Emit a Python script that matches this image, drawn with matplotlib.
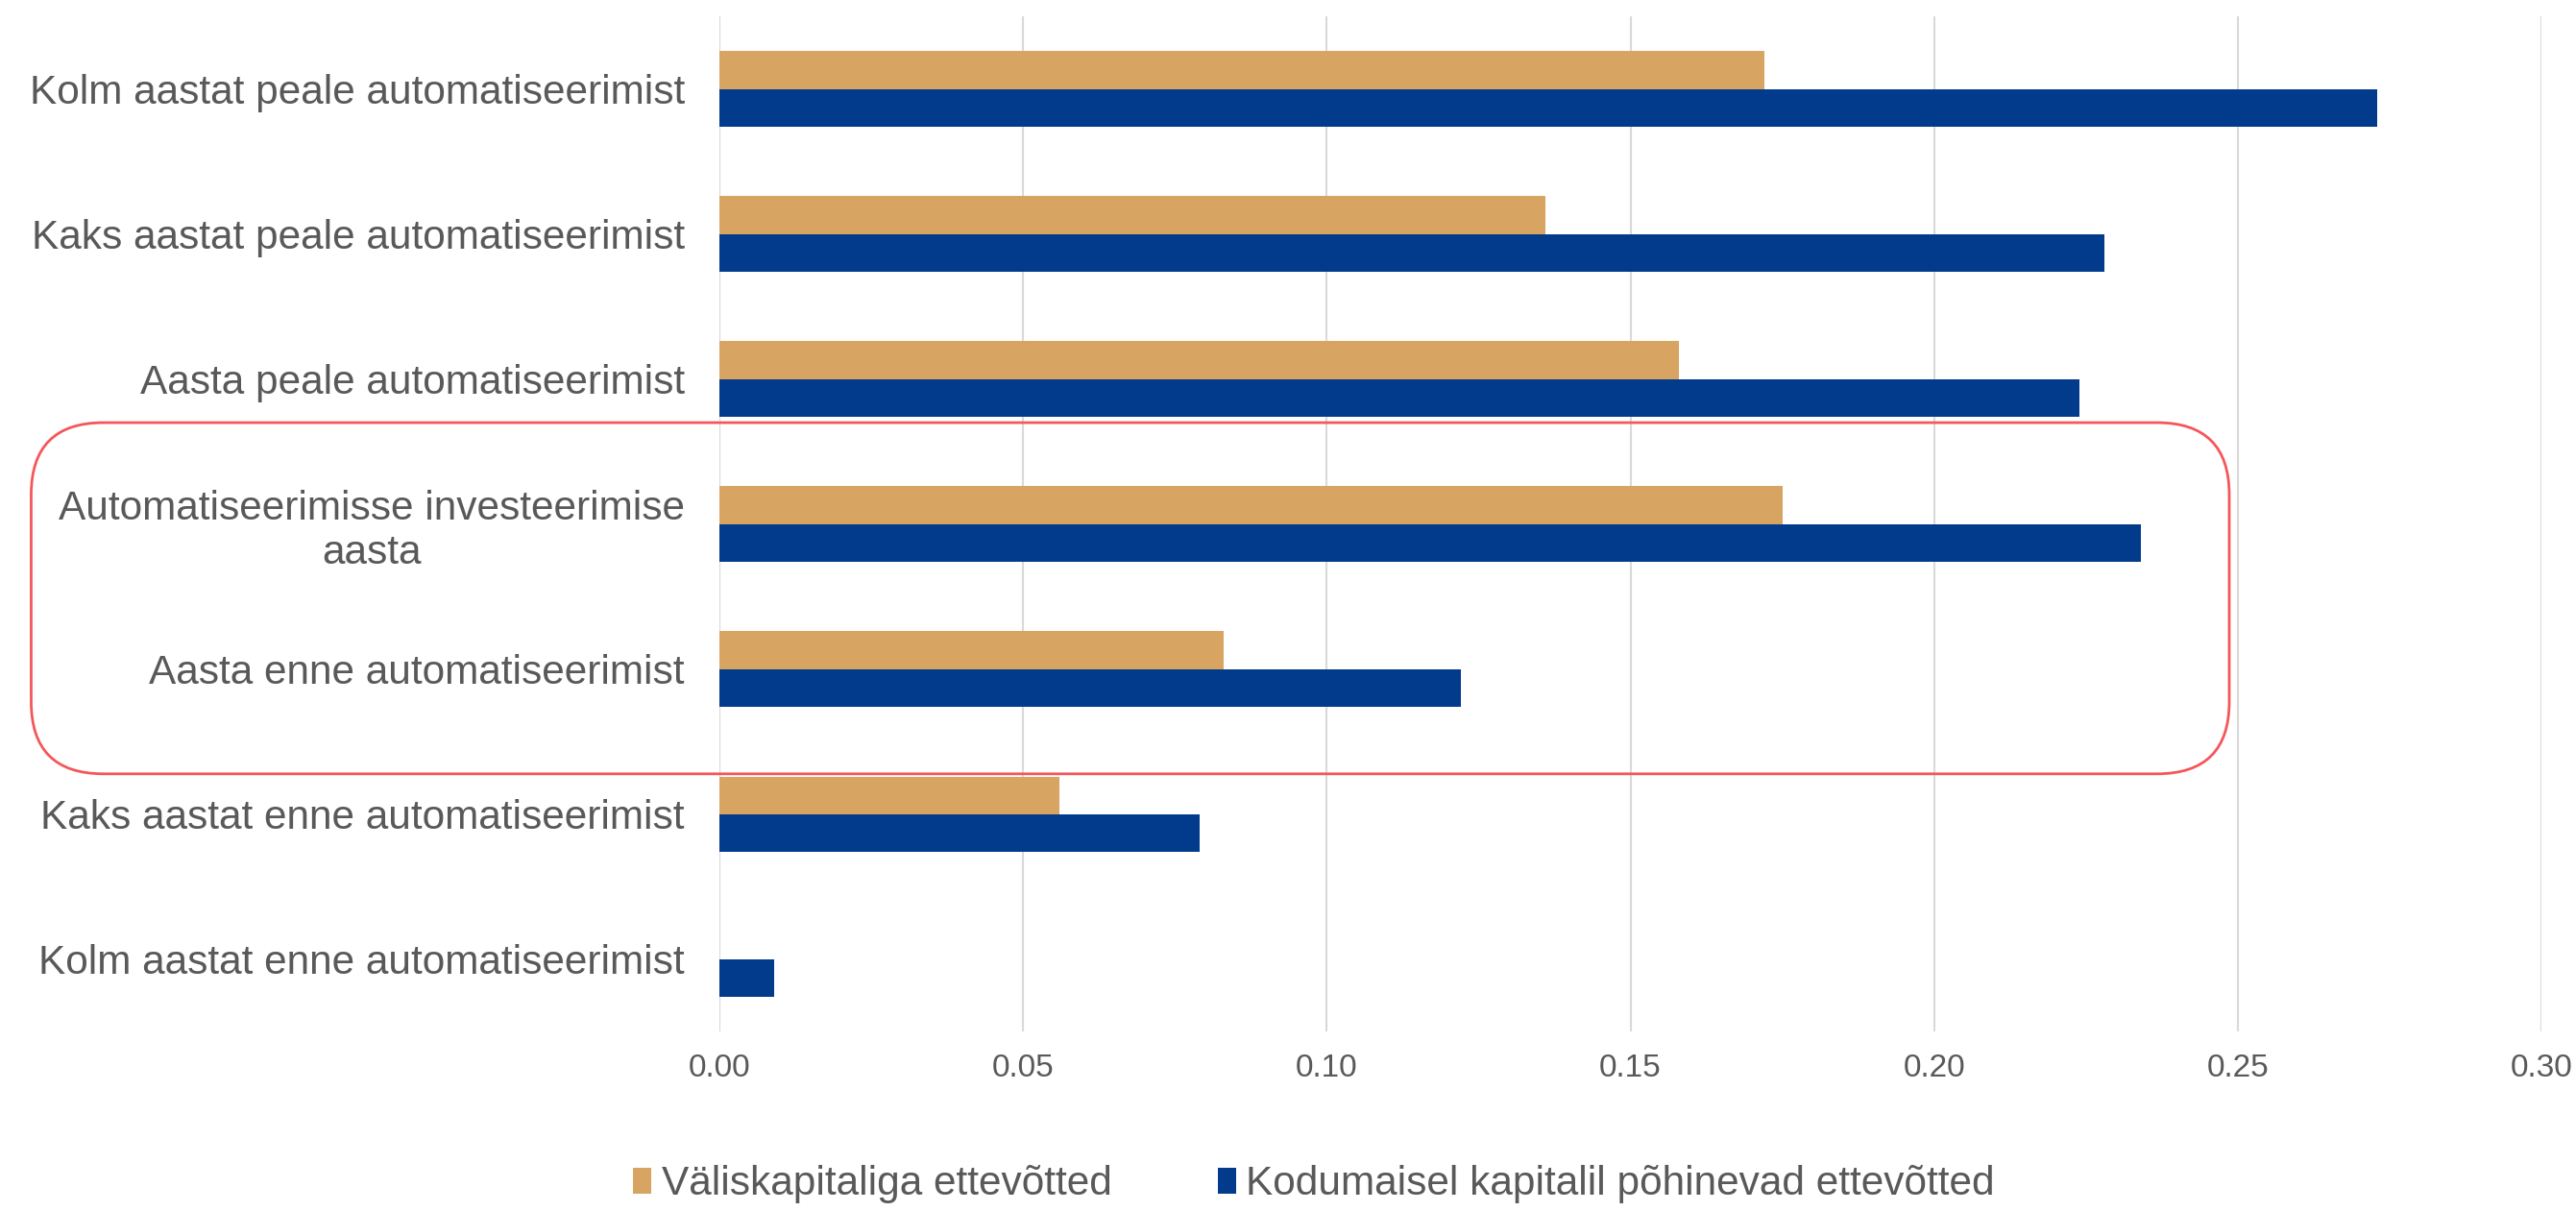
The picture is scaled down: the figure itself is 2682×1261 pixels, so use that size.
import numpy as np
import matplotlib
matplotlib.use("Agg")
import matplotlib.pyplot as plt
from matplotlib.patches import FancyBboxPatch

plt.rcParams['font.family'] = ['Liberation Sans', 'DejaVu Sans']

# Categories, top to bottom
categories = [
    "Kolm aastat peale automatiseerimist",
    "Kaks aastat peale automatiseerimist",
    "Aasta peale automatiseerimist",
    "Automatiseerimisse investeerimise\naasta",
    "Aasta enne automatiseerimist",
    "Kaks aastat enne automatiseerimist",
    "Kolm aastat enne automatiseerimist",
]
foreign = [0.172, 0.136, 0.158, 0.175, 0.083, 0.056, 0.0]
domestic = [0.273, 0.228, 0.224, 0.234, 0.122, 0.079, 0.009]
xticks = [0.00, 0.05, 0.10, 0.15, 0.20, 0.25, 0.30]

orange = '#D8A462'
blue = '#023B8C'
grey = '#595959'

W, H = 26.82, 12.61
fig = plt.figure(figsize=(W, H), dpi=100)
ax = fig.add_axes([0.2793, 0.148, 0.7073, 0.8385])

y = np.arange(len(categories))
h = 0.26
ax.barh(y - h / 2, foreign, height=h, color=orange, label='Väliskapitaliga ettevõtted', zorder=3)
ax.barh(y + h / 2, domestic, height=h, color=blue, label='Kodumaisel kapitalil põhinevad ettevõtted', zorder=3)

ax.set_ylim(len(categories) - 0.5, -0.5)
ax.set_xlim(0, 0.30)
ax.set_yticks(y)
ax.set_yticklabels(categories, fontsize=30.5, color=grey, ha='right', multialignment='center')
ax.set_xticks(xticks)
ax.set_xticklabels([f"{v:.2f}" for v in xticks], fontsize=24, color=grey)
ax.tick_params(axis='y', length=0, pad=26)
ax.tick_params(axis='x', length=0, pad=16)
ax.grid(axis='x', color='#D9D9D9', linewidth=1.5, zorder=0)
for s in ax.spines.values():
    s.set_visible(False)
ax.axvline(0, color='#D9D9D9', linewidth=1.5, zorder=1)

# red highlight box around the two central groups
box = FancyBboxPatch((0.0121, 0.361), 0.8533, 0.290,
                     boxstyle="round,pad=0,rounding_size=0.028",
                     mutation_aspect=W / H,
                     transform=fig.transFigure, fill=False,
                     edgecolor='#F5565A', linewidth=2.0, zorder=5)
fig.patches.append(box)

fig.legend(loc='center', bbox_to_anchor=(0.51, 0.022), ncol=2, frameon=False,
           fontsize=30.5, labelcolor=grey, handlelength=0.45, handleheight=0.6,
           handletextpad=0.25, columnspacing=2.6)

fig.savefig('out.png', dpi=100)
